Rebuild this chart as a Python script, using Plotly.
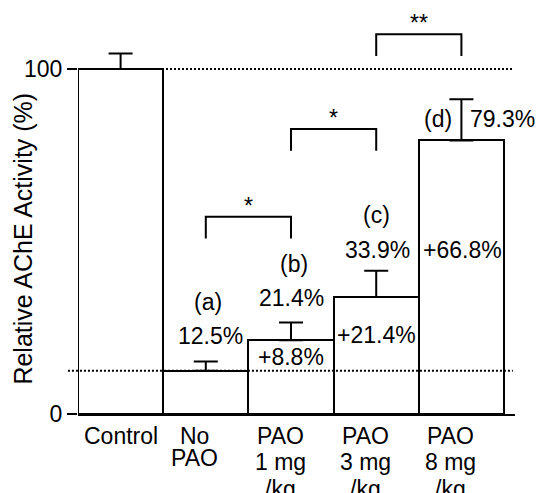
import plotly.graph_objects as go

# ---------------- data ----------------
categories = ["Control", "No PAO", "PAO 1 mg/kg", "PAO 3 mg/kg", "PAO 8 mg/kg"]
tick_lines = [["Control"], ["No", "PAO"], ["PAO", "1 mg", "/kg"],
              ["PAO", "3 mg", "/kg"], ["PAO", "8 mg", "/kg"]]
activity = [100.0, 12.5, 21.4, 33.9, 79.3]      # relative AChE activity (%)
sem = [4.5, 2.7, 5.1, 7.6, 11.9]                # upper error bars
group_letters = ["", "(a)", "(b)", "(c)", "(d)"]
increase = [None, None, 8.8, 21.4, 66.8]        # increase over No PAO (%)
sig_pairs = [(1, 2), (2, 3), (3, 4)]
sig_marks = ["*", "*", "**"]
sig_level = [57.2, 82.6, 110.1]
y_ticks = [0, 100]

# ---------------- layout helpers (positions) ----------------
FONT = "Liberation Sans, Arial, Helvetica, sans-serif"
FS = 23
letter_pos = {1: (1.02, 32.5), 2: (2.03, 43.5), 3: (3.0, 57.7), 4: (3.73, 85.5)}
value_pos = {1: (1.05, 22.6), 2: (2.0, 33.6), 3: (3.02, 47.5), 4: (4.48, 85.5)}
inc_pos = {2: (2.0, 16.5), 3: (3.0, 22.9), 4: (4.01, 47.5)}
line_shift = {1: [-21.5], 2: [-21.5, -44], 3: [-21.5, -47.5, -75]}
leg_drop = 6.3
xpos = list(range(len(categories)))

fig = go.Figure()
fig.add_trace(go.Bar(
    x=xpos, y=activity, width=1.0,
    marker=dict(color="white", line=dict(color="black", width=2)),
    error_y=dict(type="data", symmetric=False, array=sem,
                 arrayminus=[0] * len(sem), color="black", thickness=2, width=12),
    showlegend=False, hoverinfo="skip",
))

annotations = []
# group letters, values, increases
for i in xpos:
    if group_letters[i]:
        x, y = letter_pos[i]
        annotations.append(dict(x=x, y=y, text=group_letters[i], showarrow=False,
                                xanchor="center", yanchor="middle"))
        x, y = value_pos[i]
        annotations.append(dict(x=x, y=y, text=f"{activity[i]:.1f}%", showarrow=False,
                                xanchor="center", yanchor="middle"))
    if increase[i] is not None:
        x, y = inc_pos[i]
        annotations.append(dict(x=x, y=y, text=f"+{increase[i]:.1f}%", showarrow=False,
                                xanchor="center", yanchor="middle"))

# x category labels (one annotation per line)
for i, lines in enumerate(tick_lines):
    shifts = line_shift[len(lines)]
    for k, line in enumerate(lines):
        annotations.append(dict(x=i, y=0, xref="x", yref="paper", text=line,
                                showarrow=False, xanchor="center", yanchor="middle",
                                xshift=0 if i == 0 else -11, yshift=shifts[k]))

# significance brackets
shapes = []
for (a, b), mark, lvl in zip(sig_pairs, sig_marks, sig_level):
    shapes.append(dict(type="path", xref="x", yref="y",
                       path=f"M {a},{lvl - leg_drop} L {a},{lvl} L {b},{lvl} L {b},{lvl - leg_drop}",
                       line=dict(color="black", width=2)))
    annotations.append(dict(x=(a + b) / 2, y=lvl, text=mark, showarrow=False,
                            xanchor="center", yanchor="middle", yshift=11))

# reference dotted lines (control level and No PAO level)
shapes.append(dict(type="line", xref="paper", yref="y", x0=0, x1=0.995,
                   y0=activity[0], y1=activity[0],
                   line=dict(color="black", width=2, dash="2px,2px")))
shapes.append(dict(type="line", xref="paper", yref="y", x0=-0.023, x1=0.995,
                   y0=activity[1], y1=activity[1],
                   line=dict(color="black", width=2, dash="2px,2px")))

# y-axis title
annotations.append(dict(x=-0.126, y=0.434, xref="paper", yref="paper",
                        text="Relative AChE Activity (%)", textangle=-90,
                        showarrow=False, xanchor="center", yanchor="middle",
                        font=dict(size=25)))

fig.update_layout(
    width=538, height=493,
    margin=dict(l=78, r=23, t=10, b=79),
    paper_bgcolor="white", plot_bgcolor="white",
    font=dict(family=FONT, size=FS, color="black"),
    bargap=0,
    xaxis=dict(range=[-0.5, 4.629], showgrid=False, zeroline=False,
               showline=True, linecolor="black", linewidth=2,
               showticklabels=False, ticks=""),
    yaxis=dict(range=[0, 117.1], showgrid=False, zeroline=False, showline=False,
               tickvals=y_ticks, ticktext=[str(t) for t in y_ticks],
               ticks="outside", ticklen=10, tickwidth=2, tickcolor="black",
               tickfont=dict(size=FS)),
    shapes=shapes,
    annotations=annotations,
)

fig.write_html("out.html", config={"displayModeBar": False},
               post_script="document.body.style.margin='0';document.body.style.padding='0';")
